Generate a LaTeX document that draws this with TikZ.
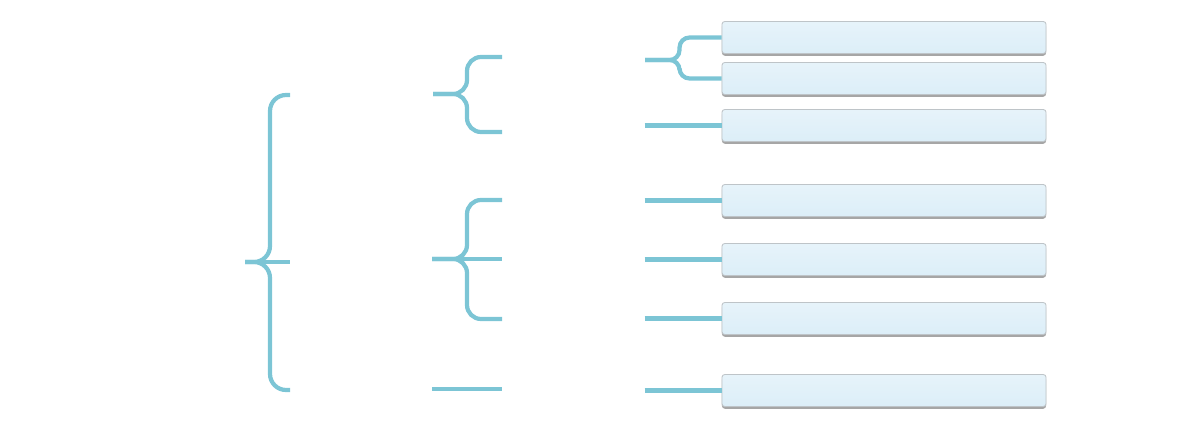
\documentclass[tikz,border=0pt]{standalone}
\usetikzlibrary{shadows}
\definecolor{azzurro}{RGB}{124,197,213}
\definecolor{celeste}{RGB}{220,238,248}
\definecolor{bordo}{RGB}{190,196,200}
\tikzset{
  graffa/.style={draw=azzurro, line width=3pt, rounded corners=#1},
  graffa/.default=0.3cm,
  casella/.style={rectangle, rounded corners=2pt, draw=bordo, line width=0.6pt,
    top color=celeste!70!white, bottom color=celeste,
    minimum width=8.1cm, minimum height=0.8cm,
    drop shadow={shadow xshift=0pt, shadow yshift=-1.6pt, opacity=0.7, fill=gray}},
}
\begin{document}
\begin{tikzpicture}[x=0.025cm, y=-0.025cm]
        \useasboundingbox (0,0) rectangle (1200,433);

        % Disegna le caselle
        \foreach \n/\y in {1/37.5, 2/78.5, 3/125.5, 4/200.5, 5/259.5, 6/318.5, 7/390.5}
            \node[casella] (c\n) at (884,\y) {};

        % Disegna la graffa grande
        \coordinate (ga) at (290,95);
        \coordinate (gb) at (290,390);
        \coordinate (gc) at (245,262);
        \coordinate (gd) at (290,262);
        \draw[graffa=0.4cm] (ga) -- ++(-20,0) |- (gc);
        \draw[graffa=0.4cm] (gb) -- ++(-20,0) |- (gc);
        \draw[graffa] (gc) -- (gd);

        % Disegna la graffa in alto
        \coordinate (ha) at (502,57);
        \coordinate (hb) at (502,132);
        \coordinate (hc) at (433,94);
        \draw[graffa=0.35cm] (ha) -- ++(-35,0) |- (hc);
        \draw[graffa=0.35cm] (hb) -- ++(-35,0) |- (hc);

        % Disegna la graffa in mezzo
        \coordinate (ma) at (502,200);
        \coordinate (mb) at (502,319);
        \coordinate (mc) at (432,259);
        \coordinate (md) at (502,259);
        \draw[graffa=0.35cm] (ma) -- ++(-35,0) |- (mc);
        \draw[graffa=0.35cm] (mb) -- ++(-35,0) |- (mc);
        \draw[graffa] (mc) -- (md);

        % Disegna la linea in basso
        \coordinate (ba) at (432,389);
        \coordinate (bb) at (502,389);
        \draw[graffa] (ba) -- (bb);

        % Disegna la graffa piccola
        \coordinate (rc) at (645,60);
        \draw[graffa=0.25cm] (c1.west) -- ++(-42,0) |- (rc);
        \draw[graffa=0.25cm] (c2.west) -- ++(-42,0) |- (rc);

        % Disegna i collegamenti
        \foreach \n in {3,...,7} {
            \path (c\n.west) ++(-77,0) coordinate (l\n);
            \draw[graffa] (l\n) -- (c\n.west);
        }
\end{tikzpicture}
\end{document}
